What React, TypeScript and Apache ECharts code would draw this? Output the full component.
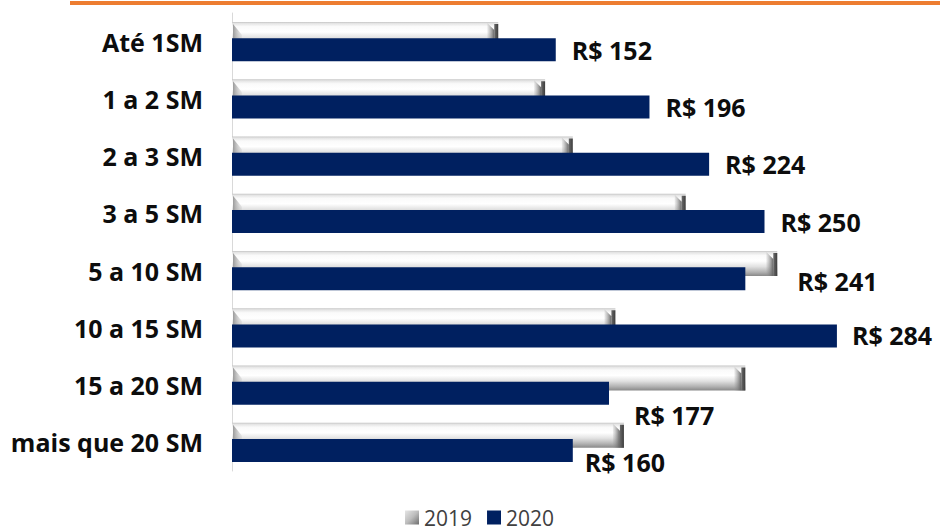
import React, { useEffect, useRef } from "react";
import * as echarts from "echarts";

const categories = [
  "Até 1SM",
  "1 a 2 SM",
  "2 a 3 SM",
  "3 a 5 SM",
  "5 a 10 SM",
  "10 a 15 SM",
  "15 a 20 SM",
  "mais que 20 SM",
];
const values2019 = [125, 147, 160, 213, 256, 180, 241, 184];
const values2020 = [152, 196, 224, 250, 241, 284, 177, 160];
const seriesNames = ["2019", "2020"];

const GRAY_H = 25;
const NAVY_H = 23;
const GAP = -0.35;
const GROUP_HALF =
  (GRAY_H * (1 + GAP) + NAVY_H * (1 + GAP) - NAVY_H * GAP) / 2;

const labelNudge: Record<number, [number, number]> = {
  4: [36, 2],
  5: [-1, -1],
  6: [9, 22],
  7: [-4, 11],
};

const FONT = "'Open Sans', 'Noto Sans', sans-serif";

export default function App() {
  const ref = useRef<HTMLDivElement>(null);
  useEffect(() => {
    if (!ref.current) return;
    const chart = echarts.init(ref.current, undefined, { renderer: "svg" });
    const grayFill = new echarts.graphic.LinearGradient(0, 0, 0, 1, [
      { offset: 0, color: "#c4c4c4" },
      { offset: 0.06, color: "#e4e4e4" },
      { offset: 0.18, color: "#fafafa" },
      { offset: 0.4, color: "#ffffff" },
      { offset: 0.62, color: "#e2e2e2" },
      { offset: 0.85, color: "#b0b0b0" },
      { offset: 1, color: "#888888" },
    ]);
    const option: any = {
      animation: false,
      textStyle: { fontFamily: FONT },
      graphic: [
        {
          type: "rect",
          shape: { x: 70, y: 1, width: 870, height: 4 },
          style: { fill: "#ED7D31" },
        },
      ],
      grid: {
        left: 232,
        right: 69,
        top: 13,
        bottom: 60,
        outerBoundsMode: "none",
      },
      legend: {
        data: [
          {
            name: seriesNames[0],
            icon: "rect",
            itemStyle: {
              color: new echarts.graphic.LinearGradient(0, 0, 1, 1, [
                { offset: 0, color: "#e6e6e6" },
                { offset: 0.5, color: "#bdbdbd" },
                { offset: 1, color: "#6e6e6e" },
              ]),
            },
          },
          { name: seriesNames[1], icon: "rect" },
        ],
        left: 405,
        top: 507,
        padding: 0,
        itemWidth: 14,
        itemHeight: 14,
        itemGap: 15,
        textStyle: {
          fontFamily: FONT,
          fontSize: 21,
          color: "#404040",
        },
      },
      xAxis: {
        type: "value",
        min: 0,
        max: 300,
        show: false,
        splitLine: { show: false },
      },
      yAxis: {
        type: "category",
        inverse: true,
        data: categories,
        axisLine: { show: true, lineStyle: { color: "#d9d9d9", width: 1 } },
        axisTick: { show: false },
        axisLabel: {
          fontFamily: FONT,
          fontWeight: "bold",
          fontSize: 25,
          color: "#0d0d0d",
          margin: 29,
          padding: [0, 0, 9, 0],
        },
      },
      series: [
        {
          name: seriesNames[0],
          type: "bar",
          z: 2,
          data: values2019,
          barWidth: GRAY_H,
          barGap: `${GAP * 100}%`,
          itemStyle: { color: grayFill },
          silent: true,
        },
        {
          name: "cap",
          type: "custom",
          coordinateSystem: "cartesian2d",
          z: 3,
          clip: false,
          silent: true,
          data: values2019.map((v, i) => [v, i]),
          encode: { x: 0, y: 1 },
          renderItem: (params: any, api: any) => {
            const end = api.coord([api.value(0), api.value(1)]);
            const start = api.coord([0, api.value(1)]);
            const top = end[1] - GROUP_HALF;
            const bottom = top + GRAY_H;
            const xe = end[0];
            const x0 = start[0];
            return {
              type: "group",
              children: [
                {
                  type: "polygon",
                  shape: {
                    points: [
                      [xe - 11, top + 1],
                      [xe - 4, top + 8],
                      [xe - 4, bottom],
                      [xe - 11, bottom],
                    ],
                  },
                  style: {
                    fill: new echarts.graphic.LinearGradient(0, 0, 1, 0, [
                      { offset: 0, color: "rgba(150,150,150,0.15)" },
                      { offset: 1, color: "rgba(95,95,95,0.95)" },
                    ]),
                  },
                },
                {
                  type: "rect",
                  shape: { x: xe - 4, y: top + 2, width: 4, height: GRAY_H - 2 },
                  style: {
                    fill: new echarts.graphic.LinearGradient(0, 0, 1, 0, [
                      { offset: 0, color: "#6a6a6a" },
                      { offset: 1, color: "#3c3c3c" },
                    ]),
                  },
                },
                {
                  type: "polygon",
                  shape: {
                    points: [
                      [x0 + 1, top + 2],
                      [x0 + 10, top + 13],
                      [x0 + 10, bottom],
                      [x0 + 1, bottom],
                    ],
                  },
                  style: {
                    fill: new echarts.graphic.LinearGradient(0, 0, 1, 0, [
                      { offset: 0, color: "#9a9a9a" },
                      { offset: 1, color: "rgba(200,200,200,0.3)" },
                    ]),
                  },
                },
              ],
            };
          },
        },
        {
          name: seriesNames[1],
          type: "bar",
          z: 4,
          data: values2020.map((v, i) => ({
            value: v,
            label: labelNudge[i] ? { offset: labelNudge[i] } : undefined,
          })),
          barWidth: NAVY_H,
          barGap: `${GAP * 100}%`,
          itemStyle: { color: "#002060" },
          label: {
            show: true,
            position: "right",
            distance: 16,
            formatter: "R$ {c}",
            fontFamily: FONT,
            fontWeight: "bold",
            fontSize: 25,
            color: "#0d0d0d",
          },
          silent: true,
        },
      ],
    };
    chart.setOption(option);
    return () => chart.dispose();
  }, []);
  return (
    <div
      ref={ref}
      style={{ position: "absolute", left: 0, top: 0, width: 940, height: 531 }}
    />
  );
}
